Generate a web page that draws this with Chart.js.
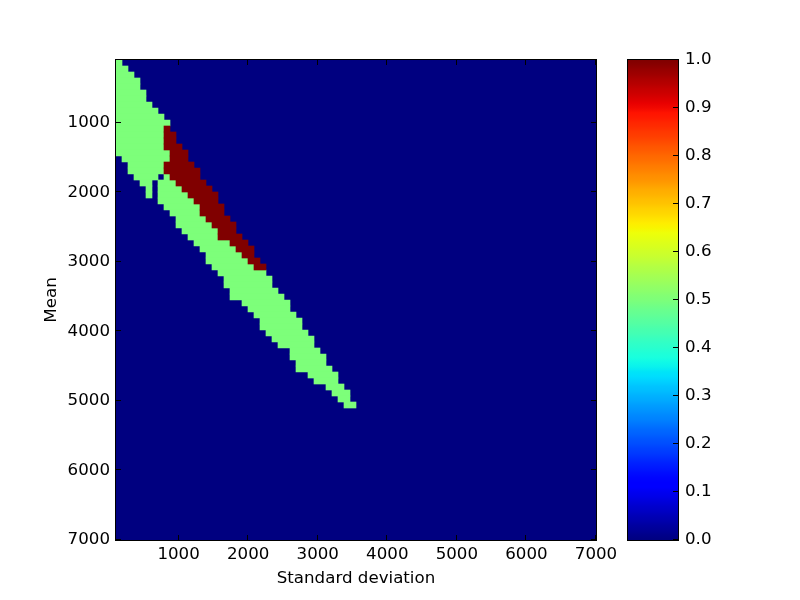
<!DOCTYPE html>
<html>
<head>
<meta charset="utf-8">
<script src="https://cdn.jsdelivr.net/npm/chart.js@4.4.1/dist/chart.umd.min.js"></script>
<style>
html, body { margin: 0; padding: 0; background: #fff; }
#wrap { position: relative; width: 800px; height: 600px; }
#main, #cbar { position: absolute; top: 0; }
#main { left: 0; }
#cbar { left: 600px; }
</style>
</head>
<body>
<div id="wrap">
<canvas id="main" width="800" height="600"></canvas>
<canvas id="cbar" width="200" height="600"></canvas>
</div>
<script>
// axes: both run 100..7000, split into 80 cells each way
var axisMin = 100;
var axisMax = 7000;
var nCols = 80;
var nRows = 80;
var xTicks = [1000, 2000, 3000, 4000, 5000, 6000, 7000];
var yTicks = [1000, 2000, 3000, 4000, 5000, 6000, 7000];
var cbTicks = [0, 0.1, 0.2, 0.3, 0.4, 0.5, 0.6, 0.7, 0.8, 0.9, 1.0];

// cell values
var lowValue = 0;
var midValue = 0.5;
var highValue = 1;

// per row (row 0 = top), first/last column holding 0.5
var midFrom = [0,0,0,0,0,0,0,0,0,0, 0,0,0,0,0,0,1,2,2,3, 4,5,5,7,8,9,10,10,11,12,
               13,14,15,15,16,17,18,18,19,19, 21,22,23,24,24,25,26,27,29,29, 30,30,32,33,35,36,37,38];
var midTo   = [0,1,2,3,3,4,4,5,6,7, 8,7,7,7,7,8,8,7,7,8, 9,10,11,12,13,13,14,15,16,16,
               18,19,20,21,22,24,25,25,26,27, 28,28,29,30,30,31,32,32,33,34, 34,35,36,36,37,38,38,39];
// single 0 cells inside the 0.5 band
var holeRows = [19, 20, 21, 22];
var holeCols = [7, 6, 6, 6];
// rows 11..34 holding 1.0
var highStartRow = 11;
var highFrom = [8,8,8,8,9,9,8,8,9,10,11,12,13,14,14,15,16,17,17,19,20,21,22,23];
var highTo   = [8,9,9,10,11,11,12,13,13,14,15,16,16,17,17,18,19,19,20,21,22,22,23,24];

// matplotlib "jet"
var jetRed   = [[0,0],[0.35,0],[0.66,1],[0.89,1],[1,0.5]];
var jetGreen = [[0,0],[0.125,0],[0.375,1],[0.64,1],[0.91,0],[1,0]];
var jetBlue  = [[0,0.5],[0.11,1],[0.34,1],[0.65,0],[1,0]];

function seg(pts, v) {
    for (var i = 1; i < pts.length; i++) {
        if (v <= pts[i][0]) {
            var t = (v - pts[i-1][0]) / (pts[i][0] - pts[i-1][0]);
            return pts[i-1][1] + t * (pts[i][1] - pts[i-1][1]);
        }
    }
    return pts[pts.length - 1][1];
}
function jet(v) {
    var q = Math.min(255, Math.floor(v * 256)) / 255;
    return 'rgb(' + Math.round(seg(jetRed, q) * 255) + ',' + Math.round(seg(jetGreen, q) * 255) + ',' + Math.round(seg(jetBlue, q) * 255) + ')';
}

function rowCells(r) {
    var cells = [];
    for (var c = 0; c < nCols; c++) cells.push(lowValue);
    if (r < midFrom.length) {
        for (c = midFrom[r]; c <= midTo[r]; c++) cells[c] = midValue;
    }
    var h = holeRows.indexOf(r);
    if (h >= 0) cells[holeCols[h]] = lowValue;
    var k = r - highStartRow;
    if (k >= 0 && k < highFrom.length) {
        for (c = highFrom[k]; c <= highTo[k]; c++) cells[c] = highValue;
    }
    return cells;
}

var colStep = (axisMax - axisMin) / nCols;
var rowStep = (axisMax - axisMin) / nRows;
var runs = {};
runs[lowValue] = [];
runs[midValue] = [];
runs[highValue] = [];
for (var r = 0; r < nRows; r++) {
    var cells = rowCells(r);
    var mean = axisMin + (r + 0.5) * rowStep;
    var start = 0;
    for (var c = 1; c <= nCols; c++) {
        if (c === nCols || cells[c] !== cells[start]) {
            runs[cells[start]].push({ x: [axisMin + start * colStep, axisMin + c * colStep], y: mean });
            start = c;
        }
    }
}

var font = { family: 'DejaVu Sans', size: 16.67 };
var noGrid = { display: false, drawTicks: false };

var framePlugin = {
    id: 'frame',
    afterDraw: function (chart) {
        var ctx = chart.ctx, a = chart.chartArea;
        ctx.save();
        ctx.strokeStyle = '#000';
        ctx.lineWidth = 1;
        ctx.strokeRect(a.left - 0.5, a.top - 0.5, a.right - a.left + 1, a.bottom - a.top + 1);
        ctx.beginPath();
        var xs = chart.scales.x, ys = chart.scales.y;
        if (xs.options.display !== false) {
            xTicks.forEach(function (v) {
                var px = Math.round(xs.getPixelForValue(v)) - 0.5;
                ctx.moveTo(px, a.bottom); ctx.lineTo(px, a.bottom - 5);
                ctx.moveTo(px, a.top); ctx.lineTo(px, a.top + 5);
            });
            yTicks.forEach(function (v) {
                var py = Math.round(ys.getPixelForValue(v)) - 0.5;
                ctx.moveTo(a.left, py); ctx.lineTo(a.left + 5, py);
                ctx.moveTo(a.right, py); ctx.lineTo(a.right - 5, py);
            });
        } else {
            cbTicks.forEach(function (v) {
                var py = Math.round(ys.getPixelForValue(v)) - 0.5;
                ctx.moveTo(a.right, py); ctx.lineTo(a.right - 5, py);
            });
        }
        ctx.stroke();
        ctx.restore();
    }
};

var ctx = document.getElementById('main').getContext('2d');
var heatmap = new Chart(ctx, {
    type: 'bar',
    data: {
        datasets: [
            { label: '1.0', data: runs[highValue], backgroundColor: jet(highValue) },
            { label: '0.5', data: runs[midValue], backgroundColor: jet(midValue) },
            { label: '0.0', data: runs[lowValue], backgroundColor: jet(lowValue) },
        ],
    },
    options: {
        responsive: false,
        animation: false,
        indexAxis: 'y',
        layout: { padding: { top: 60, left: 0, right: 204, bottom: 0 } },
        plugins: { legend: { display: false }, tooltip: { enabled: false } },
        datasets: { bar: { grouped: false, barPercentage: 1, categoryPercentage: 1, borderWidth: 0 } },
        scales: {
            x: {
                type: 'linear',
                min: axisMin,
                max: axisMax,
                afterBuildTicks: function (s) { s.ticks = xTicks.map(function (v) { return { value: v }; }); },
                afterFit: function (s) { s.height = 60; },
                grid: noGrid,
                border: { display: false },
                ticks: { autoSkip: false, maxRotation: 0, padding: 5, color: '#000', font: font,
                         callback: function (v) { return String(v); } },
                title: { display: true, text: 'Standard deviation', color: '#000', font: font,
                         padding: { top: 0, bottom: 11 } },
            },
            y: {
                type: 'linear',
                reverse: true,
                offset: false,
                min: axisMin,
                max: axisMax,
                afterBuildTicks: function (s) { s.ticks = yTicks.map(function (v) { return { value: v }; }); },
                afterFit: function (s) { s.width = 116; },
                grid: noGrid,
                border: { display: false },
                ticks: { autoSkip: false, padding: 6, color: '#000', font: font,
                         callback: function (v) { return String(v); } },
                title: { display: true, text: 'Mean', color: '#000', font: font,
                         padding: { top: 42, bottom: 0 } },
            },
        },
    },
    plugins: [framePlugin],
});

var cctx = document.getElementById('cbar').getContext('2d');
var colorbar = new Chart(cctx, {
    type: 'bar',
    data: {
        labels: [''],
        datasets: [{
            data: [[cbTicks[0], cbTicks[cbTicks.length - 1]]],
            backgroundColor: function (c) {
                var area = c.chart.chartArea;
                if (!area) return jet(0);
                var g = c.chart.ctx.createLinearGradient(0, area.bottom, 0, area.top);
                for (var i = 0; i <= 100; i++) g.addColorStop(i / 100, jet(i / 100));
                return g;
            },
        }],
    },
    options: {
        responsive: false,
        animation: false,
        layout: { padding: { top: 60, left: 28, right: 0, bottom: 60 } },
        plugins: { legend: { display: false }, tooltip: { enabled: false } },
        datasets: { bar: { barPercentage: 1, categoryPercentage: 1, borderWidth: 0 } },
        scales: {
            x: { type: 'category', display: false },
            y: {
                position: 'right',
                min: cbTicks[0],
                max: cbTicks[cbTicks.length - 1],
                afterBuildTicks: function (s) { s.ticks = cbTicks.map(function (v) { return { value: v }; }); },
                afterFit: function (s) { s.width = 122; },
                grid: noGrid,
                border: { display: false },
                ticks: { autoSkip: false, padding: 7, color: '#000', font: font,
                         callback: function (v) { return v.toFixed(1); } },
            },
        },
    },
    plugins: [framePlugin],
});
</script>
</body>
</html>
